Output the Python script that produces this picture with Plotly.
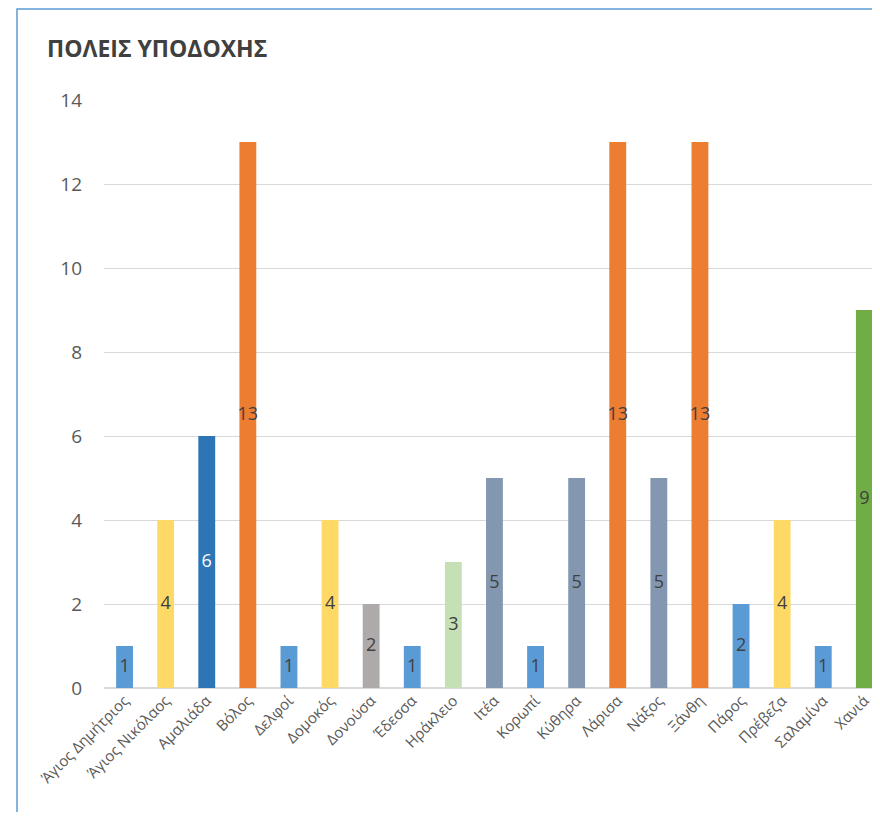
import plotly.graph_objects as go

cities = ["Άγιος Δημήτριος", "Άγιος Νικόλαος", "Αμαλιάδα", "Βόλος", "Δελφοί", "Δομοκός",
          "Δονούσα", "Έδεσσα", "Ηράκλειο", "Ιτέα", "Κορωπί", "Κύθηρα", "Λάρισα", "Νάξος",
          "Ξάνθη", "Πάρος", "Πρέβεζα", "Σαλαμίνα", "Χανιά"]
values = [1, 4, 6, 13, 1, 4, 2, 1, 3, 5, 1, 5, 13, 5, 13, 2, 4, 1, 9]
colors = ["#5B9BD5", "#FFD966", "#2E75B6", "#ED7D31", "#5B9BD5", "#FFD966",
          "#AEAAAA", "#5B9BD5", "#C5E0B4", "#8497B0", "#5B9BD5", "#8497B0", "#ED7D31",
          "#8497B0", "#ED7D31", "#5B9BD5", "#FFD966", "#5B9BD5", "#70AD47"]
label_colors = ["#404040"] * len(values)
label_colors[2] = "#FFFFFF"
y_ticks = [0, 2, 4, 6, 8, 10, 12, 14]

# page body has an 8px margin; figure sized to fit the 880x820 window
W, H = 864, 804
L, R, T, B = 96, 0, 92, 124
pw, ph = W - L - R, H - T - B
step = 41.1  # px per category

FONT = "Open Sans, Noto Sans, sans-serif"

fig = go.Figure()
fig.add_trace(go.Bar(x=list(range(len(cities))), y=values, marker=dict(color=colors, line=dict(width=0)),
                     width=0.41, hoverinfo="skip"))
fig.add_trace(go.Scatter(x=list(range(len(cities))), y=[v / 2 for v in values], mode="text",
                         text=[str(v) for v in values],
                         textfont=dict(family=FONT, size=18, color=label_colors),
                         hoverinfo="skip", cliponaxis=False))

fig.update_layout(
    width=W, height=H, showlegend=False,
    margin=dict(l=L, r=R, t=T, b=B),
    paper_bgcolor="white", plot_bgcolor="white",
    font=dict(family=FONT, color="#595959"),
    title=dict(text="<b>ΠΟΛΕΙΣ ΥΠΟΔΟΧΗΣ</b>", x=39 / W, xanchor="left", xref="container",
               y=1 - 41 / H, yanchor="middle", yref="container",
               font=dict(family=FONT, size=23, color="#404040")),
    xaxis=dict(range=[-0.5, -0.5 + pw / step], tickmode="array",
               tickvals=list(range(len(cities))), ticktext=cities, tickangle=-45,
               tickfont=dict(size=15, color="#595959"), showgrid=False, zeroline=False,
               showline=False, ticks="", ticklabeloverflow="allow"),
    yaxis=dict(range=[0, 14], tickvals=y_ticks, showgrid=True, gridcolor="#D9D9D9", gridwidth=1,
               zeroline=True, zerolinecolor="#D9D9D9", zerolinewidth=2,
               tickfont=dict(size=19, color="#595959"), ticks="", ticklabelstandoff=21),
    shapes=[dict(type="rect", xref="paper", yref="paper",
                 x0=(9 - L) / pw, x1=2, y0=-1, y1=(H - B - 1) / ph,
                 line=dict(color="#5B9BD5", width=1.5), fillcolor="rgba(0,0,0,0)", layer="above")],
)

fig.write_html("out.html")
